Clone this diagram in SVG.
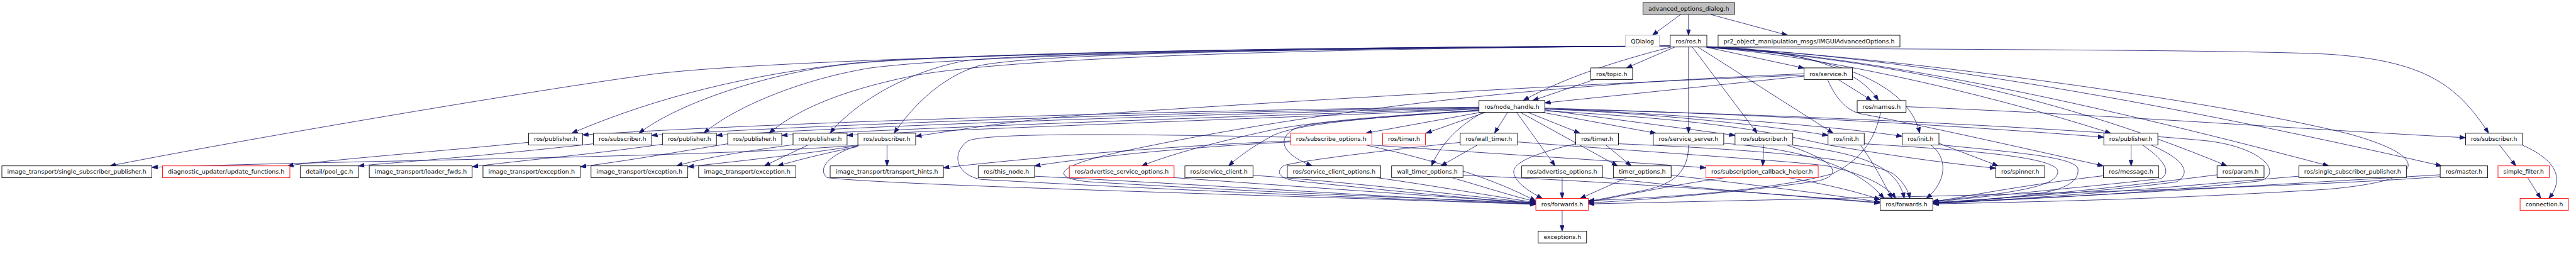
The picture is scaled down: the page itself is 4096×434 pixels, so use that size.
<svg xmlns="http://www.w3.org/2000/svg" width="4096" height="434" viewBox="0 0 4096 434">
<style>
.node rect{fill:#fff;stroke:#000;stroke-width:1.2}
.node text{font-family:"DejaVu Sans","Liberation Sans",sans-serif;font-size:12.5px;text-anchor:middle;fill:#000}
.root rect{fill:#bfbfbf}
.gray rect{stroke:#bfbfbf}
.red rect{stroke:#ff0000}
#edges path{fill:none;stroke:#191970;stroke-width:1.1;marker-end:url(#arr)}
</style>
<defs>
<marker id="arr" markerUnits="userSpaceOnUse" markerWidth="13" markerHeight="10" refX="12.5" refY="4.5" orient="auto">
<path d="M0,0 L12.5,4.5 L0,9 z" fill="#191970" stroke="#191970" stroke-width="1"/>
</marker>
</defs>
<rect width="4096" height="434" fill="#fff"/>
<g transform="scale(0.747036)">
<g id="edges">
<path d="M3577,31 L3517,75"/>
<path d="M3594,31 L3594,75"/>
<path d="M3642,31 L3805,75"/>
<path d="M3565,100 L3462,144.5"/>
<path d="M3557,100 C3440,130 3330,165 3242,214"/>
<path d="M3630,100 L3840,145"/>
<path d="M3594,100 L3594,283.5"/>
<path d="M3602,100 L3740,283.5"/>
<path d="M3614,100 L3902,283.5"/>
<path d="M3633,99 C3800,104 3950,135 3998,214"/>
<path d="M3633,100 C3870,110 4060,165 4086,283.5"/>
<path d="M3633,101 C3850,115 4200,190 4493,283.5"/>
<path d="M3633,101 C3950,120 4350,190 4740,353"/>
<path d="M3633,101 C3950,115 4400,205 4957,353"/>
<path d="M3633,101 C4000,115 4550,205 5197,353"/>
<path d="M3633,100 C3900,106 4700,104 4950,115 C5160,128 5230,180 5297,283.5"/>
<path d="M3633,100 C4000,118 4700,210 5000,285 C5180,335 5170,385 4950,403 C4600,425 4300,430 4114,434"/>
<path d="M3555,98 C2500,100 1550,130 1360,162 C1100,198 500,300 234,353"/>
<path d="M3555,98 C2700,100 2000,115 1810,135 C1600,158 1400,205 1217,283.5"/>
<path d="M3555,98 C2700,100 2000,116 1810,136 C1650,152 1450,215 1360,283.5"/>
<path d="M3555,98 C2700,102 2050,118 1850,145 C1700,170 1560,230 1498,283.5"/>
<path d="M3555,98 C2700,104 2150,125 1950,160 C1800,190 1700,230 1637,283.5"/>
<path d="M3555,98 C2700,104 2150,115 2050,130 C1900,160 1800,240 1767,283.5"/>
<path d="M3555,98 C2700,104 2200,115 2083,140 C2000,165 1940,230 1903,283.5"/>
<path d="M3393,169.5 L3262,214"/>
<path d="M3840,162 L3288,219"/>
<path d="M3913,169.5 L3984,214"/>
<path d="M3890,169.5 C3910,215 3935,238 3965,243 C4100,268 4350,325 4477,353"/>
<path d="M3840,157 C3400,175 2900,215 2400,320 C2230,355 2240,380 2320,387 C2700,410 3100,425 3269,432"/>
<path d="M3840,160 C3300,180 2600,225 2300,245 C2150,258 2050,275 1949,290"/>
<path d="M3148,228 C2600,232 1700,258 1240,287"/>
<path d="M3148,229 C2600,236 1800,262 1387,288"/>
<path d="M3148,230 C2650,240 1900,265 1525,288"/>
<path d="M3148,231 C2700,245 2000,270 1664,288"/>
<path d="M3148,232 C2750,250 2100,272 1803,288"/>
<path d="M3152,239 L2907,283.5"/>
<path d="M3162,239 L3035,283.5"/>
<path d="M3209,239 L3181,283.5"/>
<path d="M3252,239 L3363,283.5"/>
<path d="M3282,239 L3525,283.5"/>
<path d="M3288,234 L3693,288"/>
<path d="M3288,232 C3500,240 3750,265 3891,288"/>
<path d="M3288,231 C3600,245 3900,268 4049,290"/>
<path d="M3288,230 C3800,245 4200,270 4478,292"/>
<path d="M4057,227 C4500,245 4900,275 5248,293"/>
<path d="M4003,239 C3990,300 3960,340 3900,370 C3750,410 3500,422 3381,427"/>
<path d="M3228,239 L3310,353"/>
<path d="M3236,239 L3443,353"/>
<path d="M3155,240 C3110,265 3070,300 3047,353"/>
<path d="M3148,234 C2950,250 2800,258 2760,272 C2720,290 2720,325 2793,353"/>
<path d="M3148,236 C2900,250 2760,265 2710,288 C2670,310 2640,330 2615,353"/>
<path d="M3148,235 C2900,248 2760,265 2700,278 C2600,300 2500,325 2430,353"/>
<path d="M3288,236 C3700,258 3800,290 3900,310 C4050,335 4150,348 4248,358"/>
<path d="M3288,232 C3900,245 4500,280 4700,300 C4820,315 4860,370 4810,385 C4600,410 4300,425 4114,432"/>
<path d="M2747,300 C2500,310 2200,335 2008,357"/>
<path d="M2747,302 C2550,312 2350,330 2202,353"/>
<path d="M2747,292 C2400,285 2100,282 2060,300 C2020,330 2040,375 2090,382 C2500,405 3000,425 3269,434"/>
<path d="M2917,308.5 C3100,322 3400,340 3631,357"/>
<path d="M2907,308.5 C3050,340 3180,380 3269,428"/>
<path d="M3145,308.5 L3067,353"/>
<path d="M3230,302 C3600,330 3850,345 3900,355 C3980,375 4020,400 4035,422.5"/>
<path d="M3108,303 C2950,320 2780,340 2733,352 C2715,365 2720,380 2760,385 C2950,405 3150,425 3269,432"/>
<path d="M3418,308.5 L3472,353"/>
<path d="M3354,306 C3250,330 3220,350 3222,367 C3225,390 3260,410 3283,422.5"/>
<path d="M3445,306 C3750,318 3980,340 4030,370 C4050,385 4062,405 4065,422.5"/>
<path d="M3594,308.5 C3594,360 3570,390 3500,405 C3450,415 3420,422 3381,428"/>
<path d="M3669,305 C3850,318 3960,360 4010,422.5"/>
<path d="M3754,308.5 L3752,353"/>
<path d="M3803,308.5 C3900,340 3930,370 3870,385 C3700,410 3500,425 3381,432"/>
<path d="M3816,309 C3950,325 4040,350 4053,422.5"/>
<path d="M3960,308.5 C3990,350 4010,390 4027,422.5"/>
<path d="M3968,306 C4200,320 4380,335 4380,365 C4380,395 4300,410 4114,428"/>
<path d="M4127,305 L4253,353"/>
<path d="M4110,308.5 C4150,340 4140,390 4100,422.5"/>
<path d="M4127,308 C4300,325 4420,335 4423,360 C4425,385 4400,400 4350,410 C4250,425 4170,430 4114,433"/>
<path d="M4536,308.5 L4536,353"/>
<path d="M4560,308.5 C4600,335 4625,365 4600,380 C4500,392 4300,410 4114,430"/>
<path d="M4578,308.5 C4640,335 4670,365 4633,387 C4500,405 4300,420 4114,431"/>
<path d="M4477,374 C4300,395 4200,415 4114,430"/>
<path d="M4719,372 C4500,400 4300,420 4114,432"/>
<path d="M4893,375 C4600,400 4300,425 4114,433"/>
<path d="M5194,372 C4800,395 4400,420 4114,432"/>
<path d="M5194,376 C4800,405 4000,420 3381,434"/>
<path d="M3673,378 C3550,395 3450,418 3381,430"/>
<path d="M3807,378 C3900,395 3960,410 4002,425"/>
<path d="M3463,378 L3363,422.5"/>
<path d="M3557,373 C3750,395 3900,415 4002,430"/>
<path d="M3325,378 L3325,422.5"/>
<path d="M3411,378 C3600,400 3850,420 4002,432"/>
<path d="M3090,378 C3150,395 3210,415 3269,429"/>
<path d="M3114,373 C3500,390 3800,415 4002,431"/>
<path d="M2930,378 C3050,395 3180,418 3269,431"/>
<path d="M2667,373 C2900,390 3150,420 3269,432"/>
<path d="M2499,378 C2800,400 3100,420 3269,433"/>
<path d="M2202,375 C2600,395 3000,422 3269,434"/>
<path d="M1830,308.5 C1760,330 1740,360 1760,378 C1900,395 2700,415 3269,435"/>
<path d="M3325,447.5 L3325,492"/>
<path d="M5320,308.5 L5355,353"/>
<path d="M5369,309 C5440,340 5460,380 5425,422.5"/>
<path d="M5380,378 L5408,422.5"/>
<path d="M1125,303 C900,325 700,340 612,353"/>
<path d="M1263,306 C1000,335 850,345 763,353"/>
<path d="M1410,307 C1250,330 1100,342 1005,355"/>
<path d="M1549,306 C1450,322 1350,340 1235,355"/>
<path d="M1688,308 C1600,320 1500,335 1440,353"/>
<path d="M1826,310 C1700,330 1550,345 1464,355"/>
<path d="M1720,308.5 L1627,353"/>
<path d="M1826,312 C1760,325 1700,340 1655,353"/>
<path d="M1826,309 C1500,335 800,340 323,356"/>
<path d="M1888,308.5 L1888,353"/>
</g>
<g id="n0" class="node root"><rect x="3497" y="5.5" width="195" height="25"/><text x="3594.5" y="22.5" textLength="172" lengthAdjust="spacingAndGlyphs">advanced_options_dialog.h</text></g>
<g id="n1" class="node gray"><rect x="3460" y="75" width="72" height="25"/><text x="3496" y="92" textLength="49" lengthAdjust="spacingAndGlyphs">QDialog</text></g>
<g id="n2" class="node"><rect x="3555" y="75" width="78" height="25"/><text x="3594" y="92" textLength="55" lengthAdjust="spacingAndGlyphs">ros/ros.h</text></g>
<g id="n3" class="node"><rect x="3657" y="75" width="387" height="25"/><text x="3850.5" y="92" textLength="364" lengthAdjust="spacingAndGlyphs">pr2_object_manipulation_msgs/IMGUIAdvancedOptions.h</text></g>
<g id="n4" class="node"><rect x="3386" y="144.5" width="89" height="25"/><text x="3430.5" y="161.5" textLength="66" lengthAdjust="spacingAndGlyphs">ros/topic.h</text></g>
<g id="n5" class="node"><rect x="3840" y="144.5" width="103" height="25"/><text x="3891.5" y="161.5" textLength="80" lengthAdjust="spacingAndGlyphs">ros/service.h</text></g>
<g id="n6" class="node"><rect x="3148" y="214" width="140" height="25"/><text x="3218" y="231" textLength="117" lengthAdjust="spacingAndGlyphs">ros/node_handle.h</text></g>
<g id="n7" class="node"><rect x="3953" y="214" width="104" height="25"/><text x="4005" y="231" textLength="81" lengthAdjust="spacingAndGlyphs">ros/names.h</text></g>
<g id="n8" class="node"><rect x="1125" y="283.5" width="115" height="25"/><text x="1182.5" y="300.5" textLength="92" lengthAdjust="spacingAndGlyphs">ros/publisher.h</text></g>
<g id="n9" class="node"><rect x="1263" y="283.5" width="124" height="25"/><text x="1325" y="300.5" textLength="101" lengthAdjust="spacingAndGlyphs">ros/subscriber.h</text></g>
<g id="n10" class="node"><rect x="1410" y="283.5" width="115" height="25"/><text x="1467.5" y="300.5" textLength="92" lengthAdjust="spacingAndGlyphs">ros/publisher.h</text></g>
<g id="n11" class="node"><rect x="1549" y="283.5" width="115" height="25"/><text x="1606.5" y="300.5" textLength="92" lengthAdjust="spacingAndGlyphs">ros/publisher.h</text></g>
<g id="n12" class="node"><rect x="1688" y="283.5" width="115" height="25"/><text x="1745.5" y="300.5" textLength="92" lengthAdjust="spacingAndGlyphs">ros/publisher.h</text></g>
<g id="n13" class="node"><rect x="1826" y="283.5" width="123" height="25"/><text x="1887.5" y="300.5" textLength="100" lengthAdjust="spacingAndGlyphs">ros/subscriber.h</text></g>
<g id="n14" class="node red"><rect x="2747" y="283.5" width="173" height="25"/><text x="2833.5" y="300.5" textLength="150" lengthAdjust="spacingAndGlyphs">ros/subscribe_options.h</text></g>
<g id="n15" class="node red"><rect x="2943" y="283.5" width="91" height="25"/><text x="2988.5" y="300.5" textLength="68" lengthAdjust="spacingAndGlyphs">ros/timer.h</text></g>
<g id="n16" class="node"><rect x="3108" y="283.5" width="122" height="25"/><text x="3169" y="300.5" textLength="99" lengthAdjust="spacingAndGlyphs">ros/wall_timer.h</text></g>
<g id="n17" class="node"><rect x="3354" y="283.5" width="91" height="25"/><text x="3399.5" y="300.5" textLength="68" lengthAdjust="spacingAndGlyphs">ros/timer.h</text></g>
<g id="n18" class="node"><rect x="3519" y="283.5" width="150" height="25"/><text x="3594" y="300.5" textLength="127" lengthAdjust="spacingAndGlyphs">ros/service_server.h</text></g>
<g id="n19" class="node"><rect x="3693" y="283.5" width="123" height="25"/><text x="3754.5" y="300.5" textLength="100" lengthAdjust="spacingAndGlyphs">ros/subscriber.h</text></g>
<g id="n20" class="node"><rect x="3891" y="283.5" width="77" height="25"/><text x="3929.5" y="300.5" textLength="54" lengthAdjust="spacingAndGlyphs">ros/init.h</text></g>
<g id="n21" class="node"><rect x="4049" y="283.5" width="78" height="25"/><text x="4088" y="300.5" textLength="55" lengthAdjust="spacingAndGlyphs">ros/init.h</text></g>
<g id="n22" class="node"><rect x="4478" y="283.5" width="115" height="25"/><text x="4535.5" y="300.5" textLength="92" lengthAdjust="spacingAndGlyphs">ros/publisher.h</text></g>
<g id="n23" class="node"><rect x="5248" y="283.5" width="121" height="25"/><text x="5308.5" y="300.5" textLength="98" lengthAdjust="spacingAndGlyphs">ros/subscriber.h</text></g>
<g id="n24" class="node"><rect x="4" y="353" width="319" height="25"/><text x="163.5" y="370" textLength="296" lengthAdjust="spacingAndGlyphs">image_transport/single_subscriber_publisher.h</text></g>
<g id="n25" class="node red"><rect x="346" y="353" width="271" height="25"/><text x="481.5" y="370" textLength="248" lengthAdjust="spacingAndGlyphs">diagnostic_updater/update_functions.h</text></g>
<g id="n26" class="node"><rect x="639" y="353" width="124" height="25"/><text x="701" y="370" textLength="101" lengthAdjust="spacingAndGlyphs">detail/pool_gc.h</text></g>
<g id="n27" class="node"><rect x="786" y="353" width="219" height="25"/><text x="895.5" y="370" textLength="196" lengthAdjust="spacingAndGlyphs">image_transport/loader_fwds.h</text></g>
<g id="n28" class="node"><rect x="1028" y="353" width="207" height="25"/><text x="1131.5" y="370" textLength="184" lengthAdjust="spacingAndGlyphs">image_transport/exception.h</text></g>
<g id="n29" class="node"><rect x="1258" y="353" width="206" height="25"/><text x="1361" y="370" textLength="183" lengthAdjust="spacingAndGlyphs">image_transport/exception.h</text></g>
<g id="n30" class="node"><rect x="1487" y="353" width="207" height="25"/><text x="1590.5" y="370" textLength="184" lengthAdjust="spacingAndGlyphs">image_transport/exception.h</text></g>
<g id="n31" class="node"><rect x="1767" y="353" width="241" height="25"/><text x="1887.5" y="370" textLength="218" lengthAdjust="spacingAndGlyphs">image_transport/transport_hints.h</text></g>
<g id="n32" class="node"><rect x="2082" y="353" width="120" height="25"/><text x="2142" y="370" textLength="97" lengthAdjust="spacingAndGlyphs">ros/this_node.h</text></g>
<g id="n33" class="node red"><rect x="2276" y="353" width="223" height="25"/><text x="2387.5" y="370" textLength="200" lengthAdjust="spacingAndGlyphs">ros/advertise_service_options.h</text></g>
<g id="n34" class="node"><rect x="2522" y="353" width="145" height="25"/><text x="2594.5" y="370" textLength="122" lengthAdjust="spacingAndGlyphs">ros/service_client.h</text></g>
<g id="n35" class="node"><rect x="2740" y="353" width="199" height="25"/><text x="2839.5" y="370" textLength="176" lengthAdjust="spacingAndGlyphs">ros/service_client_options.h</text></g>
<g id="n36" class="node"><rect x="2962" y="353" width="152" height="25"/><text x="3038" y="370" textLength="129" lengthAdjust="spacingAndGlyphs">wall_timer_options.h</text></g>
<g id="n37" class="node"><rect x="3239" y="353" width="172" height="25"/><text x="3325" y="370" textLength="149" lengthAdjust="spacingAndGlyphs">ros/advertise_options.h</text></g>
<g id="n38" class="node"><rect x="3434" y="353" width="123" height="25"/><text x="3495.5" y="370" textLength="100" lengthAdjust="spacingAndGlyphs">timer_options.h</text></g>
<g id="n39" class="node red"><rect x="3631" y="353" width="239" height="25"/><text x="3750.5" y="370" textLength="216" lengthAdjust="spacingAndGlyphs">ros/subscription_callback_helper.h</text></g>
<g id="n40" class="node"><rect x="4248" y="353" width="104" height="25"/><text x="4300" y="370" textLength="81" lengthAdjust="spacingAndGlyphs">ros/spinner.h</text></g>
<g id="n41" class="node"><rect x="4477" y="353" width="118" height="25"/><text x="4536" y="370" textLength="95" lengthAdjust="spacingAndGlyphs">ros/message.h</text></g>
<g id="n42" class="node"><rect x="4719" y="353" width="100" height="25"/><text x="4769" y="370" textLength="77" lengthAdjust="spacingAndGlyphs">ros/param.h</text></g>
<g id="n43" class="node"><rect x="4893" y="353" width="229" height="25"/><text x="5007.5" y="370" textLength="206" lengthAdjust="spacingAndGlyphs">ros/single_subscriber_publisher.h</text></g>
<g id="n44" class="node"><rect x="5194" y="353" width="101" height="25"/><text x="5244.5" y="370" textLength="78" lengthAdjust="spacingAndGlyphs">ros/master.h</text></g>
<g id="n45" class="node red"><rect x="5317" y="353" width="109" height="25"/><text x="5371.5" y="370" textLength="86" lengthAdjust="spacingAndGlyphs">simple_filter.h</text></g>
<g id="n46" class="node red"><rect x="3269" y="422.5" width="112" height="25"/><text x="3325" y="439.5" textLength="89" lengthAdjust="spacingAndGlyphs">ros/forwards.h</text></g>
<g id="n47" class="node"><rect x="4002" y="422.5" width="112" height="25"/><text x="4058" y="439.5" textLength="89" lengthAdjust="spacingAndGlyphs">ros/forwards.h</text></g>
<g id="n48" class="node red"><rect x="5364" y="422.5" width="103" height="25"/><text x="5415.5" y="439.5" textLength="80" lengthAdjust="spacingAndGlyphs">connection.h</text></g>
<g id="n49" class="node"><rect x="3274" y="492" width="103" height="25"/><text x="3325.5" y="509" textLength="80" lengthAdjust="spacingAndGlyphs">exceptions.h</text></g>
</g>
</svg>
